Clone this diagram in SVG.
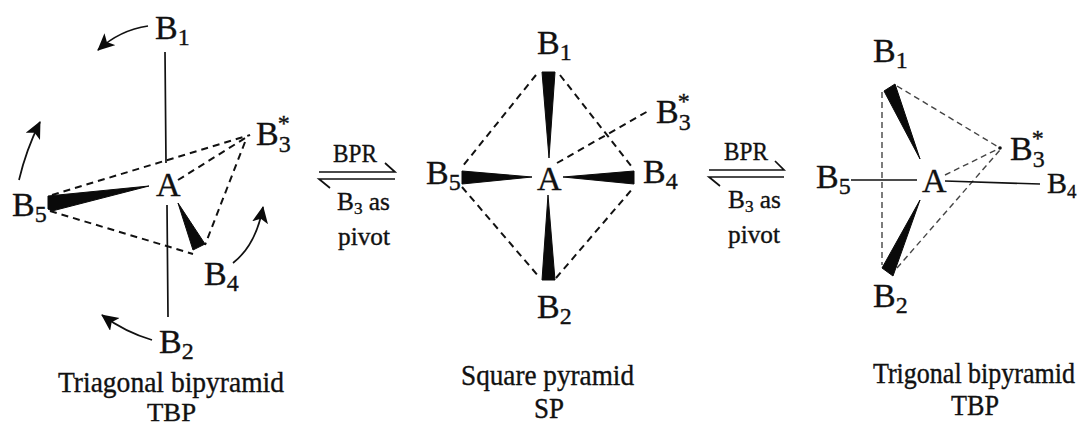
<svg xmlns="http://www.w3.org/2000/svg" width="1077" height="427" viewBox="0 0 1077 427">
<style>
text{font-family:"Liberation Serif","Times New Roman",serif;fill:#111;stroke:#111;stroke-width:.35}
.n{font-size:34px}
.s{font-size:24px}
.c{font-size:29px}
.m{font-size:25px}
.l{fill:none;stroke:#111;stroke-width:1.7}
.d{fill:none;stroke:#111;stroke-width:2;stroke-dasharray:7 5}
.t{fill:none;stroke:#444;stroke-width:1.4;stroke-dasharray:6 4}
.w{fill:#0a0a0a;stroke:#0a0a0a;stroke-width:1;stroke-linejoin:round}
</style>
<defs>
<marker id="ah" markerWidth="20" markerHeight="18" refX="16" refY="8" orient="auto" markerUnits="userSpaceOnUse"><path d="M0 0L17 8L0 16L4 8Z" fill="#0a0a0a"/></marker>
</defs>
<rect width="1077" height="427" fill="#fff"/>
<g id="connectors">
<path class="l" d="M165 52L166 163M167 205L168 317"/>
<path class="d" d="M52 195L250 135M178 180L250 135M245 142L205 245M50 211L193 254"/>
<path class="w" d="M149 186L48 196L48 209L52 211Z"/>
<path class="w" d="M178 203L205 244L193 250Z"/>
<path class="l" marker-end="url(#ah)" d="M148 26Q120 30 98 50"/>
<path class="l" marker-end="url(#ah)" d="M19 180Q26 150 40 122"/>
<path class="l" marker-end="url(#ah)" d="M233 263Q256 245 263 207"/>
<path class="l" marker-end="url(#ah)" d="M152 340Q125 332 102 315"/>
<path class="l" d="M319 172H395L385 163M395 179H319L330 188"/>
<path class="d" d="M536 75L462 167M560 75L632 167M462 187L540 278M556 278L634 187M557 163L650 110"/>
<path class="w" d="M549 158L542 72L555 72Z"/>
<path class="w" d="M548 195L542 280L555 280Z"/>
<path class="w" d="M532 177L462 171L462 184Z"/>
<path class="w" d="M563 177L634 171L634 184Z"/>
<path class="l" d="M709 170H784L775 161M784 177H709L720 186"/>
<path class="t" d="M882 92V265M897 86L1000 148M945 175L1000 148M897 268L1000 150"/>
<circle cx="1000" cy="148" r="1.8" fill="#111"/>
<path class="l" d="M851 180H917M945 181L1040 184"/>
<path class="w" d="M920 159L884 91L895 84Z"/>
<path class="w" d="M920 200L882 268L893 276Z"/>
</g>
<g id="tbp-left">
<text class="n" x="155" y="39">B<tspan class="s" dy="6">1</tspan></text>
<text class="n" x="12" y="216">B<tspan class="s" dy="6">5</tspan></text>
<text class="n" x="156" y="196">A</text>
<text class="n" x="256" y="145">B<tspan class="s" dy="7">3</tspan><tspan class="s" dx="-13" dy="-21">*</tspan></text>
<text class="n" x="204" y="285">B<tspan class="s" dy="6">4</tspan></text>
<text class="n" x="159" y="353">B<tspan class="s" dy="6">2</tspan></text>
<text class="c" x="58" y="392" textLength="226" lengthAdjust="spacingAndGlyphs">Triagonal bipyramid</text>
<text x="147" y="421" font-size="25" textLength="49" lengthAdjust="spacingAndGlyphs">TBP</text>
</g>
<g id="bpr-1">
<text class="m" x="333" y="162" textLength="44" lengthAdjust="spacingAndGlyphs">BPR</text>
<text class="m" x="337" y="210" textLength="53" lengthAdjust="spacingAndGlyphs">B<tspan font-size="17" dy="4">3</tspan><tspan dy="-4"> as</tspan></text>
<text class="m" x="338" y="245" textLength="52" lengthAdjust="spacingAndGlyphs">pivot</text>
</g>
<g id="sp-middle">
<text class="n" x="537" y="54">B<tspan class="s" dy="6">1</tspan></text>
<text class="n" x="426" y="184">B<tspan class="s" dy="6">5</tspan></text>
<text class="n" x="537" y="190">A</text>
<text class="n" x="643" y="183">B<tspan class="s" dy="6">4</tspan></text>
<text class="n" x="656" y="123">B<tspan class="s" dy="7">3</tspan><tspan class="s" dx="-13" dy="-21">*</tspan></text>
<text class="n" x="537" y="318">B<tspan class="s" dy="6">2</tspan></text>
<text class="c" x="461" y="385" textLength="173" lengthAdjust="spacingAndGlyphs">Square pyramid</text>
<text class="c" x="534" y="418" textLength="30" lengthAdjust="spacingAndGlyphs">SP</text>
</g>
<g id="bpr-2">
<text class="m" x="724" y="160" textLength="44" lengthAdjust="spacingAndGlyphs">BPR</text>
<text class="m" x="728" y="208" textLength="53" lengthAdjust="spacingAndGlyphs">B<tspan font-size="17" dy="4">3</tspan><tspan dy="-4"> as</tspan></text>
<text class="m" x="728" y="243" textLength="52" lengthAdjust="spacingAndGlyphs">pivot</text>
</g>
<g id="tbp-right">
<text class="n" x="873" y="62">B<tspan class="s" dy="6">1</tspan></text>
<text class="n" x="816" y="188">B<tspan class="s" dy="6">5</tspan></text>
<text class="n" x="922" y="192">A</text>
<text class="n" x="1010" y="160">B<tspan class="s" dy="7">3</tspan><tspan class="s" dx="-13" dy="-21">*</tspan></text>
<text x="1047" y="193" font-size="30">B<tspan font-size="19" dy="5">4</tspan></text>
<text class="n" x="873" y="307">B<tspan class="s" dy="6">2</tspan></text>
<text transform="translate(873 383) scale(1 1.1)" x="0" y="0" font-size="26">Trigonal bipyramid</text>
<text class="c" x="951" y="415" textLength="48" lengthAdjust="spacingAndGlyphs">TBP</text>
</g>
</svg>
